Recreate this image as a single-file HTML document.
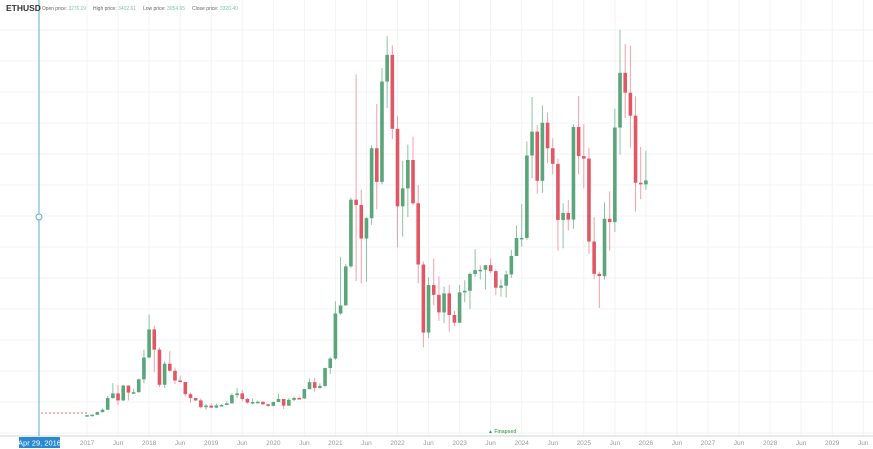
<!DOCTYPE html>
<html><head><meta charset="utf-8">
<style>
html,body{margin:0;padding:0;background:#fff;}
body{width:873px;height:449px;overflow:hidden;font-family:"Liberation Sans",sans-serif;}
</style></head>
<body>
<svg id="s" width="873" height="449" xmlns="http://www.w3.org/2000/svg" style="position:absolute;left:0;top:0">
<rect width="873" height="449" fill="#fff"/>
<g id="grid"></g>
<g id="c"></g>
<line x1="0" y1="436" x2="873" y2="436" stroke="#cfd3d6" stroke-width="1"/>
<g id="ax" font-size="6.5" fill="#999" text-anchor="middle"></g>
<line x1="39" y1="0" x2="39" y2="436" stroke="#5aaed6" stroke-width="1"/>
<circle cx="39" cy="217" r="3" fill="#fff" stroke="#5aaed6" stroke-width="1"/>
<rect x="19" y="437" width="41" height="11" fill="#2a8ad0"/>
<text x="39.5" y="445.5" font-size="7.5" fill="#fff" text-anchor="middle">Apr 29, 2016</text>
<text x="6" y="11" font-size="8.5" font-weight="bold" fill="#333">ETHUSD</text>
<text x="42" y="10" font-size="5" fill="#666" textLength="44" lengthAdjust="spacingAndGlyphs">Open price: <tspan fill="#7fc4a4">3276.19</tspan></text>
<text x="93" y="10" font-size="5" fill="#666" textLength="43" lengthAdjust="spacingAndGlyphs">High price: <tspan fill="#7fc4a4">3402.61</tspan></text>
<text x="143" y="10" font-size="5" fill="#666" textLength="42" lengthAdjust="spacingAndGlyphs">Low price: <tspan fill="#7fc4a4">3054.65</tspan></text>
<text x="192" y="10" font-size="5" fill="#666" textLength="46" lengthAdjust="spacingAndGlyphs">Close price: <tspan fill="#7fc4a4">3320.40</tspan></text>
<text x="488" y="433" font-size="5" fill="#3a9a50" font-weight="bold">▲ <tspan fill="#6a6">Finapsed</tspan></text>
<line x1="41" y1="413" x2="87" y2="413" stroke="#e06b73" stroke-width="1" stroke-dasharray="2,2"/>
</svg>
<script>
var d=[
[8,10.7,11,8],[10.7,16,17,10],[16,50,55,16],[50,80,95,47],[80,230,260,80],[230,290,420,220],[290,200,400,140],[200,390,400,190],[390,300,395,200],[300,305,350,280],[305,470,480,300],[470,750,850,420],
[750,1110,1300,740],[1110,850,1160,560],[850,400,880,370],[400,670,700,360],[670,580,830,570],[580,455,620,410],[455,435,510,430],[435,280,440,250],[280,230,300,170],[230,200,235,190],[200,113,225,100],[113,133,155,80],
[133,107,160,100],[107,136,160,100],[136,141,150,130],[141,162,185,140],[162,268,290,160],[268,290,360,230],[290,218,330,190],[218,172,230,160],[172,180,225,150],[180,182,200,160],[182,151,190,140],[151,130,155,120],
[130,180,185,125],[180,218,285,200],[218,133,220,90],[133,207,230,130],[207,231,250,190],[231,225,250,215],[225,345,350,220],[345,434,480,340],[434,360,490,310],[360,386,420,350],[386,615,620,370],[615,737,750,540],
[737,1314,1470,720],[1314,1417,2040,1300],[1417,1918,1950,1420],[1918,2773,2800,1900],[2773,2706,4380,1730],[2706,2275,2900,1700],[2275,2536,2550,1720],[2536,3433,3470,2450],[3433,3001,4000,2650],[3001,4288,4460,2970],[4288,4630,4870,3950],[4630,3682,4750,3550],
[3682,2688,3850,2160],[2688,2919,3270,2300],[2919,3282,3480,2550],[3282,2727,3580,2700],[2727,1942,2960,1700],[1942,1070,1980,880],[1070,1679,1780,1000],[1679,1553,2020,1420],[1553,1328,1790,1220],[1328,1572,1660,1190],[1572,1295,1680,1080],[1295,1196,1350,1150],
[1196,1585,1680,1190],[1585,1605,1740,1460],[1605,1821,1840,1370],[1821,1870,2140,1780],[1870,1874,1930,1750],[1874,1934,1930,1620],[1934,1857,2020,1830],[1857,1645,1880,1550],[1645,1671,1750,1530],[1671,1815,1860,1520],[1815,2052,2130,1770],[2052,2282,2440,2050],
[2282,2283,2720,2170],[2283,3340,3520,2260],[3340,3646,4090,3050],[3646,3015,3730,2850],[3015,3760,3980,2860],[3760,3433,3890,3240],[3433,3232,3560,3100],[3232,2513,3300,2120],[2513,2603,2730,2150],[2603,2518,2770,2380],[2518,3706,3740,2400],[3706,3332,4100,3100],
[3332,3300,3740,2920],[3300,2237,3440,2080],[2237,1822,2550,1760],[1822,1794,1850,1385],[1794,2528,2740,1750],[2528,2486,2880,2120],[2486,3698,3940,2360],[3698,4400,4950,3350],[4400,4145,4770,3820],[4145,3850,4750,3440],[3850,2990,4100,2620],[2990,2970,3450,2780],[2970,3020,3400,2900]];
var NS="http://www.w3.org/2000/svg",c=document.getElementById('c'),g=document.getElementById('grid'),ax=document.getElementById('ax');
function el(p,t,a){var e=document.createElementNS(NS,t);for(var k in a)e.setAttribute(k,a[k]);p.appendChild(e);return e;}
function Y(p){return 416-0.078*p;}
var X0=87,dx=5.175;
for(var y=30;y<436;y+=31)el(g,'line',{x1:0,x2:873,y1:y,y2:y,stroke:'#f2f3f4','stroke-width':1});
for(var i=0;i<26;i++){var m=i*6,x=X0+m*dx;el(g,'line',{x1:x,x2:x,y1:0,y2:436,stroke:'#f2f3f4','stroke-width':1});
var t=el(ax,'text',{x:x,y:445});t.textContent=(i%2==0)?String(2017+i/2):'Jun';}
for(var i=0;i<d.length;i++){var o=d[i][0],cl=d[i][1],h=d[i][2],l=d[i][3],x=X0+i*dx;
var col=cl>=o?'#5aa57a':'#e05865',wc=cl>=o?'#8cc4a2':'#f0a0a8';
el(c,'line',{x1:x,x2:x,y1:Y(h),y2:Y(l),stroke:wc,'stroke-width':1});
var t=Math.min(Y(o),Y(cl)),b=Math.max(Y(o),Y(cl));if(b-t<1.5)b=t+1.5;
el(c,'rect',{x:x-1.8,y:t,width:3.6,height:b-t,fill:col});}
</script>
</body></html>
